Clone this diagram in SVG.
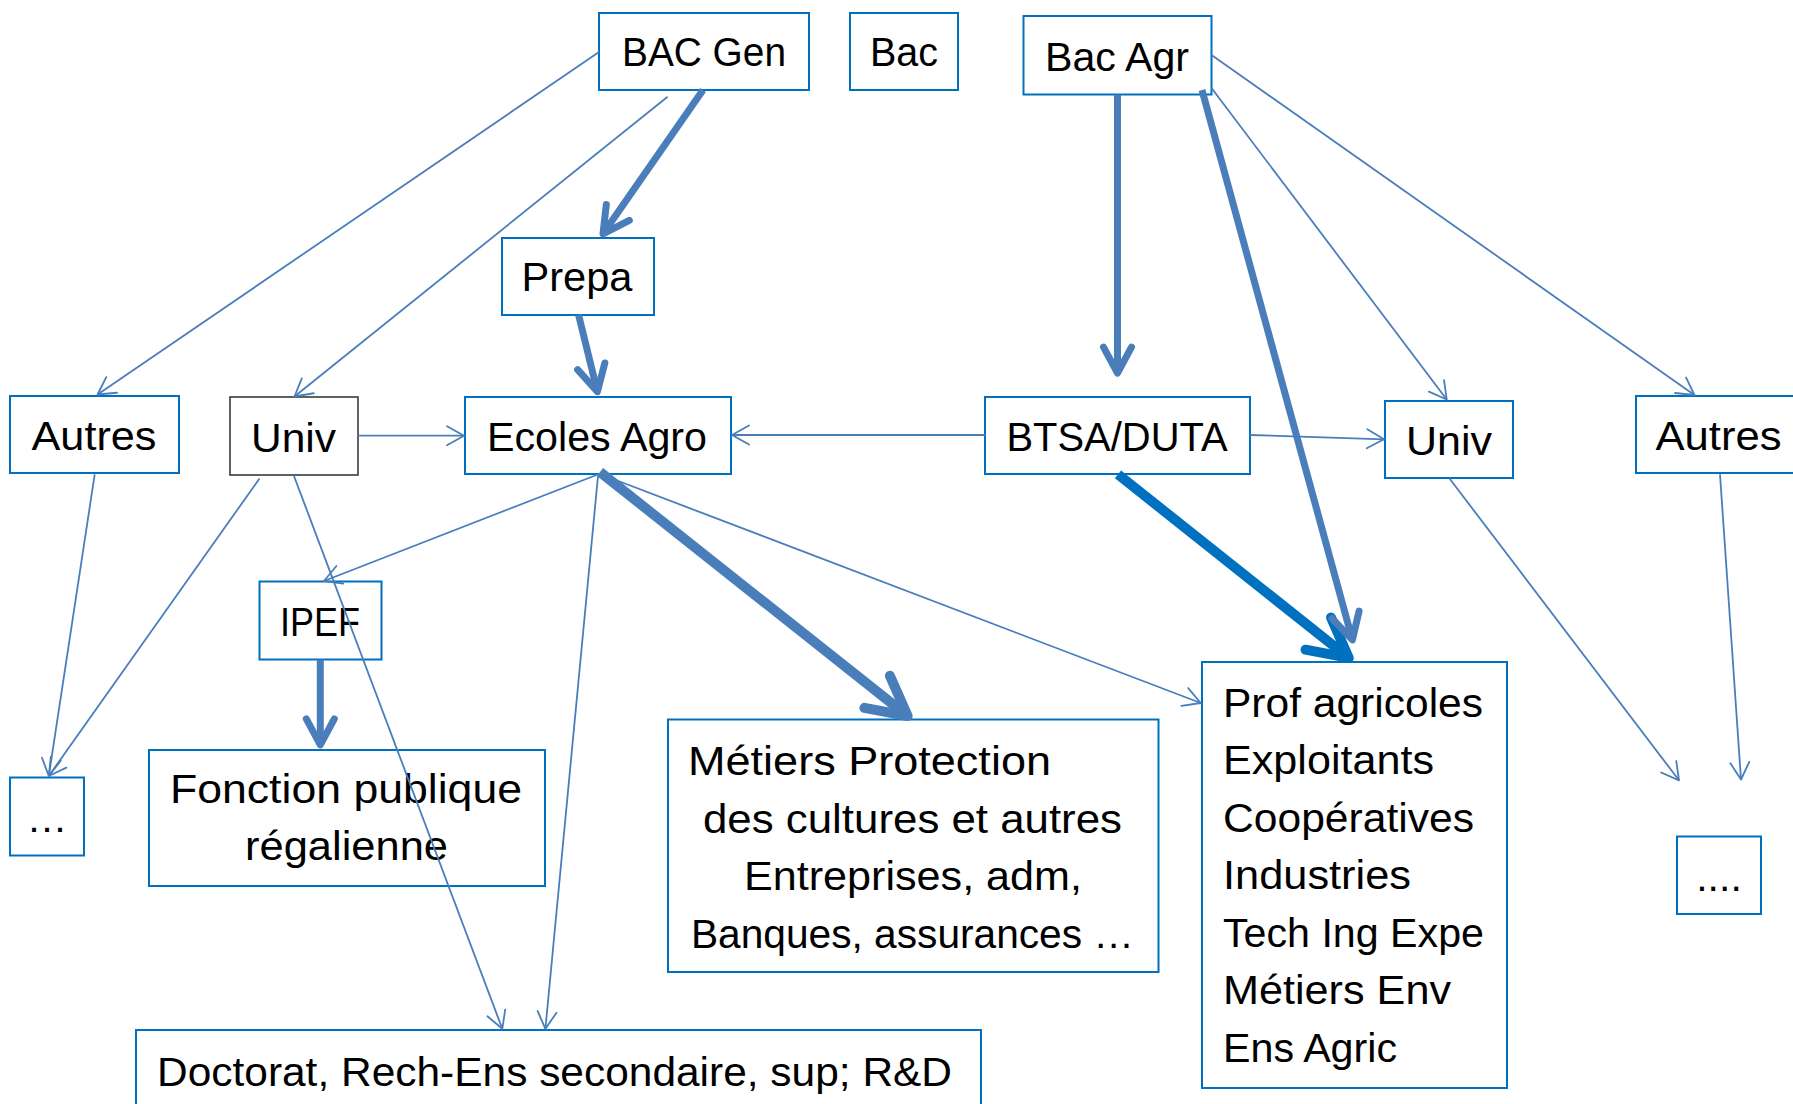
<svg xmlns="http://www.w3.org/2000/svg" width="1793" height="1104" viewBox="0 0 1793 1104">
<style>
.box{fill:#fff;stroke:#0070C0;stroke-width:2}
.boxk{fill:#fff;stroke:#3a3a3a;stroke-width:1.6}
text{font-family:"Liberation Sans",Arial,sans-serif;font-size:41px;fill:#000}
.c{text-anchor:middle}
.thin{fill:none;stroke:#4A7EBB;stroke-width:1.8;marker-end:url(#mThin)}
.thick{fill:none;stroke:#4A7EBB;stroke-width:7;marker-end:url(#mThick)}
.heavy{fill:none;stroke:#4A7EBB;stroke-width:10;marker-end:url(#mHeavy)}
.heavyD{fill:none;stroke:#0070C0;stroke-width:10;marker-end:url(#mHeavyD)}
</style>
<defs>
<marker id="mThin" markerUnits="userSpaceOnUse" orient="auto" refX="0" refY="0" markerWidth="1" markerHeight="1" overflow="visible">
<path d="M-17,-9.5 L0,0 L-17,9.5" fill="none" stroke="#4A7EBB" stroke-width="1.8" stroke-linecap="round" stroke-linejoin="round"/>
</marker>
<marker id="mThick" markerUnits="userSpaceOnUse" orient="auto" refX="0" refY="0" markerWidth="1" markerHeight="1" overflow="visible">
<path d="M-26,-14 L0,0 L-26,14" fill="none" stroke="#4A7EBB" stroke-width="7" stroke-linecap="round" stroke-linejoin="round"/>
</marker>
<marker id="mHeavy" markerUnits="userSpaceOnUse" orient="auto" refX="0" refY="0" markerWidth="1" markerHeight="1" overflow="visible">
<path d="M-39,-20.5 L0,0 L-39,20.5" fill="none" stroke="#4A7EBB" stroke-width="10" stroke-linecap="round" stroke-linejoin="round"/>
</marker>
<marker id="mHeavyD" markerUnits="userSpaceOnUse" orient="auto" refX="0" refY="0" markerWidth="1" markerHeight="1" overflow="visible">
<path d="M-39,-20.5 L0,0 L-39,20.5" fill="none" stroke="#0070C0" stroke-width="10" stroke-linecap="round" stroke-linejoin="round"/>
</marker>
</defs>
<rect x="0" y="0" width="1793" height="1104" fill="#fff"/>

<g id="nodes">
<g id="bac-gen"><rect class="box" x="599" y="13" width="210" height="77"/><text class="c" x="704" y="66" textLength="164" lengthAdjust="spacingAndGlyphs">BAC Gen</text></g>
<g id="bac"><rect class="box" x="850" y="13" width="108" height="77"/><text class="c" x="904" y="66" textLength="68" lengthAdjust="spacingAndGlyphs">Bac</text></g>
<g id="bac-agr"><rect class="box" x="1023.5" y="16" width="188" height="78.5"/><text class="c" x="1117" y="70.5" textLength="144" lengthAdjust="spacingAndGlyphs">Bac Agr</text></g>
<g id="prepa"><rect class="box" x="502" y="238" width="152" height="77"/><text class="c" x="577" y="290.5" textLength="111" lengthAdjust="spacingAndGlyphs">Prepa</text></g>
<g id="autres-l"><rect class="box" x="10" y="396" width="169" height="77"/><text class="c" x="94" y="450" textLength="125" lengthAdjust="spacingAndGlyphs">Autres</text></g>
<g id="univ-l"><rect class="boxk" x="230" y="397" width="128" height="78"/><text class="c" x="293.5" y="451.5" textLength="85" lengthAdjust="spacingAndGlyphs">Univ</text></g>
<g id="ecoles-agro"><rect class="box" x="465" y="397" width="266" height="77"/><text class="c" x="597" y="450.5" textLength="220" lengthAdjust="spacingAndGlyphs">Ecoles Agro</text></g>
<g id="btsa-duta"><rect class="box" x="985" y="397" width="265" height="77"/><text class="c" x="1117" y="450.5" textLength="221" lengthAdjust="spacingAndGlyphs">BTSA/DUTA</text></g>
<g id="univ-r"><rect class="box" x="1385" y="401" width="128" height="77"/><text class="c" x="1449" y="455" textLength="86" lengthAdjust="spacingAndGlyphs">Univ</text></g>
<g id="autres-r"><rect class="box" x="1636" y="396" width="166" height="77"/><text class="c" x="1718.5" y="450" textLength="126" lengthAdjust="spacingAndGlyphs">Autres</text></g>
<g id="ipef"><rect class="box" x="259.5" y="581.5" width="122" height="78"/><text class="c" x="320" y="636" textLength="80" lengthAdjust="spacingAndGlyphs">IPEF</text></g>
<g id="etc-l"><rect class="box" x="10" y="777.5" width="74" height="78"/><text class="c" x="47" y="832">…</text></g>
<g id="fonction"><rect class="box" x="149" y="750" width="396" height="136"/><text class="c" x="346" y="803" textLength="352" lengthAdjust="spacingAndGlyphs">Fonction publique</text><text class="c" x="346.5" y="860" textLength="203" lengthAdjust="spacingAndGlyphs">régalienne</text></g>
<g id="metiers"><rect class="box" x="668" y="719.5" width="490.5" height="252.5"/>
<text x="688" y="775" textLength="363" lengthAdjust="spacingAndGlyphs">Métiers Protection</text>
<text class="c" x="912.5" y="832.5" textLength="419" lengthAdjust="spacingAndGlyphs">des cultures et autres</text>
<text class="c" x="913" y="890" textLength="338" lengthAdjust="spacingAndGlyphs">Entreprises, adm,</text>
<text class="c" x="912.5" y="947.5" textLength="443" lengthAdjust="spacingAndGlyphs">Banques, assurances …</text></g>
<g id="prof"><rect class="box" x="1202" y="662" width="305" height="426"/>
<text x="1223" y="716.5" textLength="260" lengthAdjust="spacingAndGlyphs">Prof agricoles</text>
<text x="1223" y="774" textLength="211" lengthAdjust="spacingAndGlyphs">Exploitants</text>
<text x="1223" y="831.5" textLength="251" lengthAdjust="spacingAndGlyphs">Coopératives</text>
<text x="1223" y="889" textLength="188" lengthAdjust="spacingAndGlyphs">Industries</text>
<text x="1223" y="946.5" textLength="261" lengthAdjust="spacingAndGlyphs">Tech Ing Expe</text>
<text x="1223" y="1004" textLength="228" lengthAdjust="spacingAndGlyphs">Métiers Env</text>
<text x="1223" y="1061.5" textLength="174" lengthAdjust="spacingAndGlyphs">Ens Agric</text></g>
<g id="etc-r"><rect class="box" x="1677" y="836.5" width="84" height="77.5"/><text class="c" x="1719" y="891">....</text></g>
<g id="doctorat"><rect class="box" x="136" y="1030" width="845" height="100"/><text x="157" y="1086" textLength="795" lengthAdjust="spacingAndGlyphs">Doctorat, Rech-Ens secondaire, sup; R&amp;D</text></g>
</g>

<g id="connectors">
<path class="thin" d="M599,52 L97.6,394.5"/>
<path class="thin" d="M667.6,96.7 L294.5,396.5"/>
<path class="thick" d="M703,90 L603,233.8"/>
<path class="thick" d="M578.6,315 L597.4,391.6"/>
<path class="thin" d="M357.6,435.7 L464,435.7"/>
<path class="thin" d="M985,435 L732,435"/>
<path class="thick" d="M1117.5,94.7 L1117.5,373.2"/>
<path class="thin" d="M1211.5,88 L1446.7,399.5"/>
<path class="thin" d="M1211.5,55 L1694.4,395"/>
<path class="thin" d="M1249.7,435 L1384,439.3"/>
<path class="heavyD" d="M1118,474.4 L1348.8,657.9"/>
<path class="thick" d="M1202,90 L1352.4,639.9"/>
<path class="heavy" d="M600,472 L907.7,716"/>
<path class="thin" d="M599,474 L324,581"/>
<path class="thin" d="M600,474 L1200.7,703"/>
<path class="thin" d="M598,476 L545.4,1028.8"/>
<path class="thin" d="M294,476 L502.3,1028.8"/>
<path class="thin" d="M259.5,478.5 L48.8,776"/>
<path class="thin" d="M94.7,474.4 L48.8,776"/>
<path class="thick" d="M320.3,659.6 L320.3,744.8"/>
<path class="thin" d="M1449.5,478.5 L1679,780.3"/>
<path class="thin" d="M1720,474.4 L1741,779.5"/>
</g>
</svg>
